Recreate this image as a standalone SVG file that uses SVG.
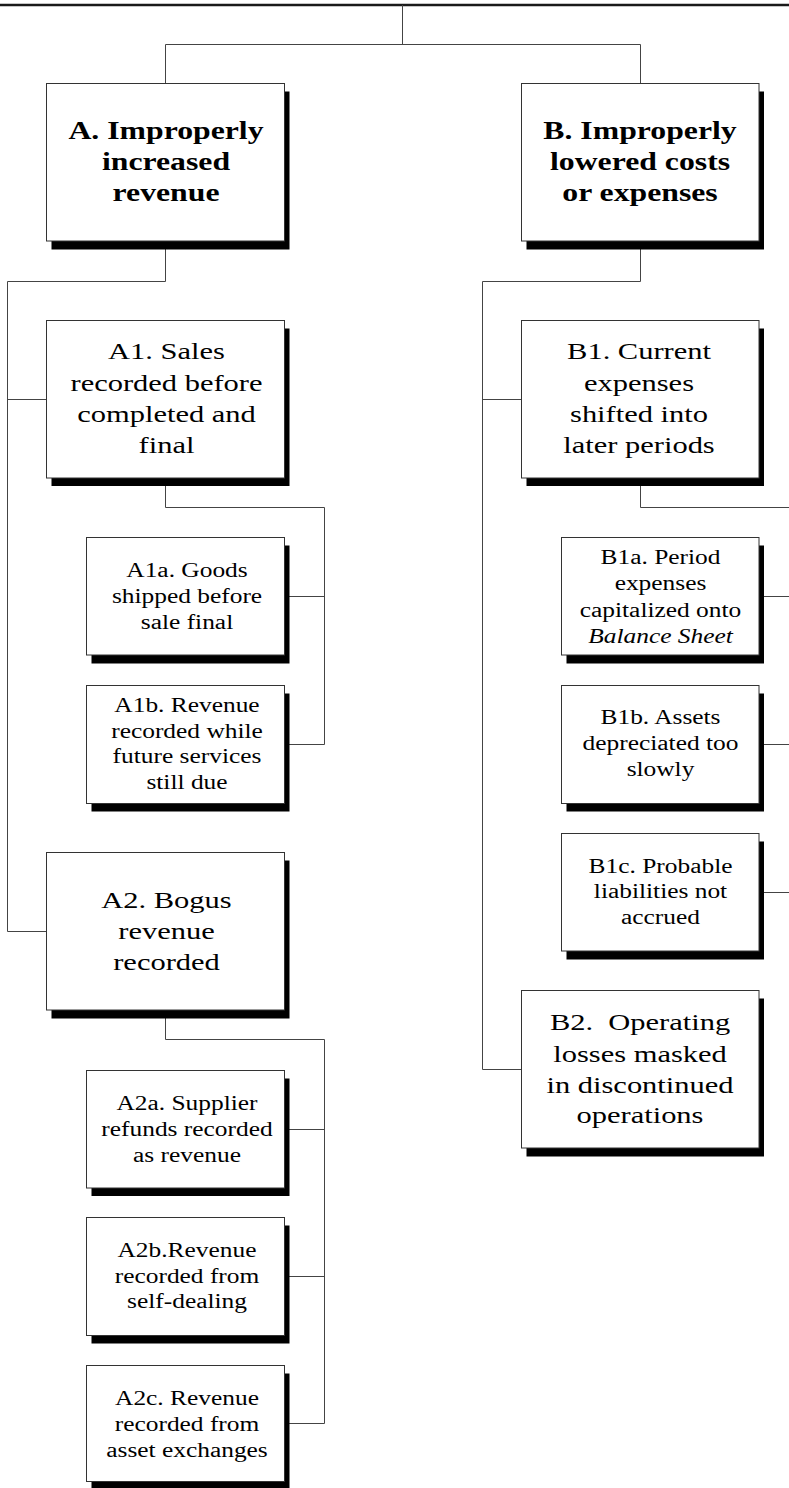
<svg xmlns="http://www.w3.org/2000/svg" width="789" height="1488" viewBox="0 0 789 1488">
<style>
  .box { fill:#fff; stroke:#333; stroke-width:1; }
  .shadow { fill:#000; }
  .t { font-family:"Liberation Serif","Times New Roman",serif; text-anchor:middle; fill:#000; }
  .h { font-size:25px; font-weight:bold; }
  .m { font-size:24px; }
  .s { font-size:20px; }
  .i { font-style:italic; }
  .conn { fill:none; stroke:#444; stroke-width:1; }
  .rule { fill:none; stroke:#1a1a1a; stroke-width:2.5; }
</style>
<rect width="789" height="1488" fill="#fff"/>

<g id="connectors">
  <path class="rule" d="M0,5 H789"/>
  <path class="conn" d="M402.5,5 V44.5 M165.5,44.5 H640.5 M165.5,44.5 V83.5 M640.5,44.5 V83.5"/>
  <path class="conn" d="M165.5,241 V281.5 H7.5 V931.5 H46.5 M7.5,399.5 H46.5"/>
  <path class="conn" d="M165.5,478 V507.5 H324.5 V744.5 H284.5 M284.5,596.5 H324.5"/>
  <path class="conn" d="M165.5,1010 V1039.5 H324.5 V1423.5 H284.5 M284.5,1129.5 H324.5 M284.5,1276.5 H324.5"/>
  <path class="conn" d="M640.5,241 V281.5 H482.5 V1069.5 H521.5 M482.5,399.5 H521.5"/>
  <path class="conn" d="M640.5,478 V507.5 H790 M759,596.5 H790 M759,744.5 H790 M759,892.5 H790 M789.5,507.5 V892.5"/>
</g>

<g id="nodeA">
  <rect class="shadow" x="51.5" y="91.5" width="238" height="158"/>
  <rect class="box" x="46.5" y="83.5" width="238" height="157.5"/>
  <g transform="translate(166 0) scale(1.27 1)">
    <text class="t h" x="0" y="139">A. Improperly</text>
    <text class="t h" x="0" y="170">increased</text>
    <text class="t h" x="0" y="201">revenue</text>
  </g>
</g>

<g id="nodeB">
  <rect class="shadow" x="526.5" y="91.5" width="237.5" height="158"/>
  <rect class="box" x="521.5" y="83.5" width="237.5" height="157.5"/>
  <g transform="translate(640 0) scale(1.27 1)">
    <text class="t h" x="0" y="139">B. Improperly</text>
    <text class="t h" x="0" y="170">lowered costs</text>
    <text class="t h" x="0" y="201">or expenses</text>
  </g>
</g>

<g id="nodeA1">
  <rect class="shadow" x="51.5" y="328.5" width="238" height="157.5"/>
  <rect class="box" x="46.5" y="320.5" width="238" height="157.5"/>
  <g transform="translate(166.5 0) scale(1.27 1)">
    <text class="t m" x="0" y="359.5">A1. Sales</text>
    <text class="t m" x="0" y="391">recorded before</text>
    <text class="t m" x="0" y="422">completed and</text>
    <text class="t m" x="0" y="453">final</text>
  </g>
</g>

<g id="nodeA1a">
  <rect class="shadow" x="91.5" y="545.5" width="198" height="118"/>
  <rect class="box" x="86.5" y="537.5" width="198" height="117.5"/>
  <g transform="translate(187 0) scale(1.27 1)">
    <text class="t s" x="0" y="576.7">A1a. Goods</text>
    <text class="t s" x="0" y="602.7">shipped before</text>
    <text class="t s" x="0" y="628.7">sale final</text>
  </g>
</g>

<g id="nodeA1b">
  <rect class="shadow" x="91.5" y="693.5" width="198" height="118"/>
  <rect class="box" x="86.5" y="685.5" width="198" height="118"/>
  <g transform="translate(187 0) scale(1.27 1)">
    <text class="t s" x="0" y="711.7">A1b. Revenue</text>
    <text class="t s" x="0" y="737.7">recorded while</text>
    <text class="t s" x="0" y="763.5">future services</text>
    <text class="t s" x="0" y="789.3">still due</text>
  </g>
</g>

<g id="nodeA2">
  <rect class="shadow" x="51.5" y="860.5" width="238" height="158"/>
  <rect class="box" x="46.5" y="852.5" width="238" height="157.5"/>
  <g transform="translate(166.5 0) scale(1.27 1)">
    <text class="t m" x="0" y="908.3">A2. Bogus</text>
    <text class="t m" x="0" y="939.3">revenue</text>
    <text class="t m" x="0" y="970">recorded</text>
  </g>
</g>

<g id="nodeA2a">
  <rect class="shadow" x="91.5" y="1078.5" width="198" height="117.5"/>
  <rect class="box" x="86.5" y="1070.5" width="198" height="117.5"/>
  <g transform="translate(187 0) scale(1.27 1)">
    <text class="t s" x="0" y="1110">A2a. Supplier</text>
    <text class="t s" x="0" y="1136">refunds recorded</text>
    <text class="t s" x="0" y="1161.7">as revenue</text>
  </g>
</g>

<g id="nodeA2b">
  <rect class="shadow" x="91.5" y="1225.5" width="198" height="118"/>
  <rect class="box" x="86.5" y="1217.5" width="198" height="118"/>
  <g transform="translate(187 0) scale(1.27 1)">
    <text class="t s" x="0" y="1257.3">A2b.Revenue</text>
    <text class="t s" x="0" y="1282.7">recorded from</text>
    <text class="t s" x="0" y="1308.3">self-dealing</text>
  </g>
</g>

<g id="nodeA2c">
  <rect class="shadow" x="91.5" y="1373.5" width="198" height="116"/>
  <rect class="box" x="86.5" y="1365.5" width="198" height="116"/>
  <g transform="translate(187 0) scale(1.27 1)">
    <text class="t s" x="0" y="1405">A2c. Revenue</text>
    <text class="t s" x="0" y="1430.7">recorded from</text>
    <text class="t s" x="0" y="1457.3">asset exchanges</text>
  </g>
</g>

<g id="nodeB1">
  <rect class="shadow" x="526.5" y="328.5" width="237.5" height="157.5"/>
  <rect class="box" x="521.5" y="320.5" width="237.5" height="157.5"/>
  <g transform="translate(639 0) scale(1.27 1)">
    <text class="t m" x="0" y="359.5">B1. Current</text>
    <text class="t m" x="0" y="391">expenses</text>
    <text class="t m" x="0" y="422">shifted into</text>
    <text class="t m" x="0" y="453">later periods</text>
  </g>
</g>

<g id="nodeB1a">
  <rect class="shadow" x="566.5" y="545.5" width="197.5" height="118"/>
  <rect class="box" x="561.5" y="537.5" width="197.5" height="117.5"/>
  <g transform="translate(660.5 0) scale(1.27 1)">
    <text class="t s" x="0" y="564.3">B1a. Period</text>
    <text class="t s" x="0" y="590.5">expenses</text>
    <text class="t s" x="0" y="616.7">capitalized onto</text>
    <text class="t s i" x="0" y="642.7">Balance Sheet</text>
  </g>
</g>

<g id="nodeB1b">
  <rect class="shadow" x="566.5" y="693.5" width="197.5" height="118"/>
  <rect class="box" x="561.5" y="685.5" width="197.5" height="118"/>
  <g transform="translate(660.5 0) scale(1.27 1)">
    <text class="t s" x="0" y="724">B1b. Assets</text>
    <text class="t s" x="0" y="750">depreciated too</text>
    <text class="t s" x="0" y="776">slowly</text>
  </g>
</g>

<g id="nodeB1c">
  <rect class="shadow" x="566.5" y="841.5" width="197.5" height="118"/>
  <rect class="box" x="561.5" y="833.5" width="197.5" height="117.5"/>
  <g transform="translate(660.5 0) scale(1.27 1)">
    <text class="t s" x="0" y="872.7">B1c. Probable</text>
    <text class="t s" x="0" y="898.3">liabilities not</text>
    <text class="t s" x="0" y="924.5">accrued</text>
  </g>
</g>

<g id="nodeB2">
  <rect class="shadow" x="526.5" y="998.5" width="237.5" height="158"/>
  <rect class="box" x="521.5" y="990.5" width="237.5" height="157.5"/>
  <g transform="translate(640 0) scale(1.27 1)">
    <text class="t m" x="0" y="1030" xml:space="preserve">B2.  Operating</text>
    <text class="t m" x="0" y="1061.7">losses masked</text>
    <text class="t m" x="0" y="1093.3">in discontinued</text>
    <text class="t m" x="0" y="1123.3">operations</text>
  </g>
</g>
</svg>
